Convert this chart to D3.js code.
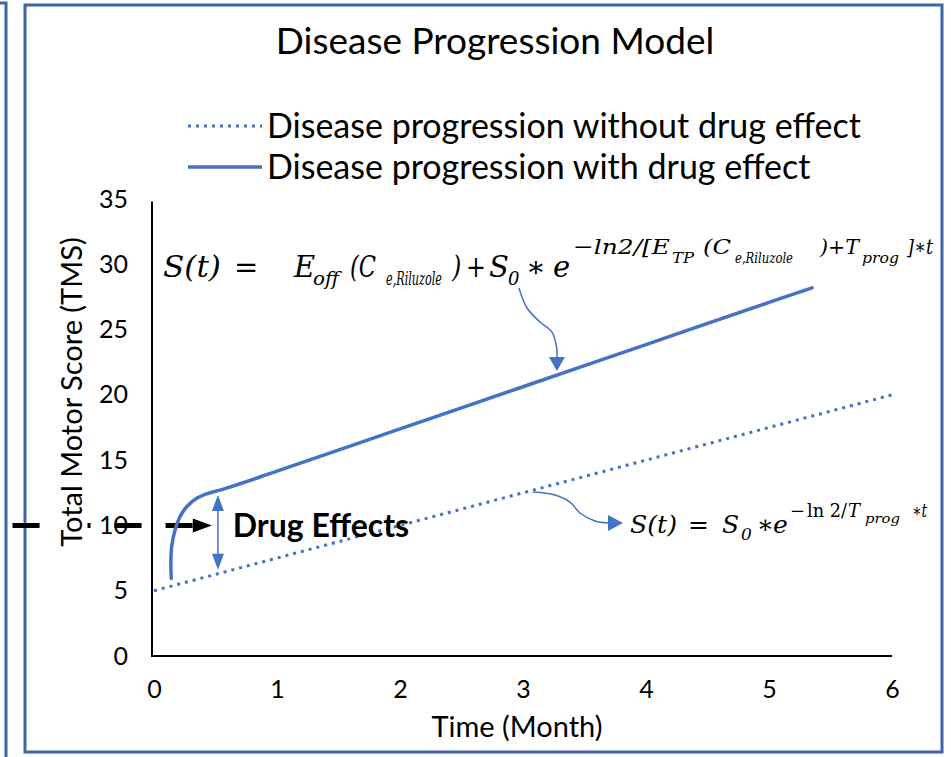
<!DOCTYPE html>
<html>
<head>
<meta charset="utf-8">
<script src="https://cdn.jsdelivr.net/npm/d3@7"></script>
<style>
  html, body { margin: 0; padding: 0; background: #fff; }
  svg { display: block; }
  text { font-family: Lato, "Open Sans", sans-serif; fill: #000; }
</style>
</head>
<body>
<svg id="chart" width="951" height="757"></svg>
<script>
// Time axis (months) and score axis tick labels
const xTicks = [0, 1, 2, 3, 4, 5, 6];
const yTicks = [0, 5, 10, 15, 20, 25, 30, 35];

// Progression without drug effect (dotted)
const noDrugTime  = [0, 6];
const noDrugScore = [5, 20];

// Progression with drug effect (solid)
const drugTime  = [0.14, 0.137, 0.144, 0.171, 0.211, 0.266, 0.347, 0.441, 0.537, 0.672, 1, 2, 3, 4, 5, 5.35];
const drugScore = [5.95, 7.1, 8.4, 9.65, 10.67, 11.43, 12.08, 12.46, 12.7, 13.1, 14.16, 17.39, 20.62, 23.85, 27.08, 28.2];

const legendLabels = ["Disease progression without drug effect", "Disease progression with drug effect"];

const BLUE = "#4472C4";
const FRAME = "#3E64A6";

const svg = d3.select("#chart");

const x = d3.scaleLinear().domain([0, 6]).range([154, 892]);
const y = d3.scaleLinear().domain([0, 35]).range([656, 199]);

// Panel frames
svg.append("rect").attr("x", -20).attr("y", 3).attr("width", 26).attr("height", 780)
  .attr("fill", "none").attr("stroke", FRAME).attr("stroke-width", 3);
svg.append("rect").attr("x", 25).attr("y", 5).attr("width", 917).attr("height", 747)
  .attr("fill", "none").attr("stroke", FRAME).attr("stroke-width", 3);

// Title
svg.append("text").attr("x", 495).attr("y", 41).attr("dy", "0.35em").attr("text-anchor", "middle")
  .style("font-size", "37px").text("Disease Progression Model");

// Legend
const legY = [126, 167];
svg.append("line").attr("x1", 188).attr("x2", 262).attr("y1", legY[0]).attr("y2", legY[0])
  .attr("stroke", BLUE).attr("stroke-width", 3).attr("stroke-dasharray", "3,5");
svg.append("line").attr("x1", 188).attr("x2", 262).attr("y1", legY[1]).attr("y2", legY[1])
  .attr("stroke", BLUE).attr("stroke-width", 3.5);
legendLabels.forEach((lab, i) => {
  svg.append("text").attr("x", 267).attr("y", legY[i]).attr("dy", "0.35em")
    .style("font-size", "34px").text(lab);
});

// Drug-effect marker arrow at score 10 (drawn beneath the labels)
const arrowY = y(10);
const arrowStart = x(-1.15), arrowTip = x(0.47);
svg.append("line").attr("x1", arrowStart).attr("x2", arrowTip - 18)
  .attr("y1", arrowY).attr("y2", arrowY)
  .attr("stroke", "#000").attr("stroke-width", 5).attr("stroke-dasharray", "27,24");
svg.append("path")
  .attr("d", `M${arrowTip},${arrowY} L${arrowTip - 19},${arrowY - 7} L${arrowTip - 19},${arrowY + 7} Z`)
  .attr("fill", "#000");

// Axes
const gx = svg.append("g").attr("transform", `translate(0,${y(0)})`)
  .call(d3.axisBottom(x).tickValues(xTicks).tickSize(0).tickPadding(24).tickFormat(d3.format("d")));
const gy = svg.append("g").attr("transform", `translate(${x(0) - 2},0)`)
  .call(d3.axisLeft(y).tickValues(yTicks).tickSize(0).tickPadding(24).tickFormat(d3.format("d")));
[gx, gy].forEach(g => {
  g.select(".domain").attr("stroke", "#000").attr("stroke-width", 2);
  g.selectAll("text").style("font-size", "25px").style("font-family", "Lato, 'Open Sans', sans-serif").attr("fill", "#000");
});
gx.select(".domain").attr("d", `M${x(0) - 2},0H${x(6)}`);
gy.select(".domain").attr("d", `M0,${y(34.8)}V${y(0) + 1}`);

// Axis titles
const ytX = 72, ytY = 392;
const yTitle = svg.append("text").attr("transform", `translate(${ytX},${ytY}) rotate(-90)`)
  .attr("text-anchor", "middle").attr("dy", "0.35em").style("font-size", "29px")
  .text("Total Motor Score (TMS)");
const bb = yTitle.node().getBBox();
svg.insert("rect", () => yTitle.node())
  .attr("x", ytX - bb.height / 2 + 2).attr("y", ytY - bb.width / 2)
  .attr("width", bb.height - 4).attr("height", bb.width).attr("fill", "#fff");

svg.append("text").attr("x", 517).attr("y", 727).attr("text-anchor", "middle")
  .attr("dy", "0.35em").style("font-size", "29px").text("Time (Month)");

// Series
const noDrug = noDrugTime.map((t, i) => [t, noDrugScore[i]]);
const withDrug = drugTime.map((t, i) => [t, drugScore[i]]);
svg.append("path").datum(noDrug)
  .attr("d", d3.line().x(d => x(d[0])).y(d => y(d[1])))
  .attr("fill", "none").attr("stroke", BLUE).attr("stroke-width", 3).attr("stroke-dasharray", "3,5");
svg.append("path").datum(withDrug)
  .attr("d", d3.line().x(d => x(d[0])).y(d => y(d[1])).curve(d3.curveCatmullRom))
  .attr("fill", "none").attr("stroke", BLUE).attr("stroke-width", 3.5).attr("stroke-linecap", "round");

// Double-headed arrow spanning the drug effect
const daX = x(0.52), daTop = y(12.33), daBot = y(6.6);
svg.append("line").attr("x1", daX).attr("x2", daX).attr("y1", daTop + 12).attr("y2", daBot - 12)
  .attr("stroke", BLUE).attr("stroke-width", 1.5);
svg.append("path").attr("d", `M${daX},${daTop} L${daX - 6},${daTop + 16} L${daX + 6},${daTop + 16} Z`).attr("fill", BLUE);
svg.append("path").attr("d", `M${daX},${daBot} L${daX - 6},${daBot - 16} L${daX + 6},${daBot - 16} Z`).attr("fill", BLUE);

svg.append("text").attr("x", x(0.64)).attr("y", y(10)).attr("dy", "0.35em")
  .style("font-size", "32px").style("font-weight", "bold").text("Drug Effects");

// Curved pointers from the formulas to the lines
const pointer1 = [[2.967, 28.18], [3.033, 26.65], [3.138, 25.58], [3.236, 24.81], [3.276, 23.44], [3.276, 22.9]];
const pointer2 = [[3.081, 12.56], [3.26, 12.33], [3.382, 11.79], [3.463, 10.95], [3.585, 10.34], [3.691, 10.19]];
const curveLine = d3.line().x(d => x(d[0])).y(d => y(d[1])).curve(d3.curveCatmullRom);
[pointer1, pointer2].forEach(p => {
  svg.append("path").datum(p).attr("d", curveLine)
    .attr("fill", "none").attr("stroke", BLUE).attr("stroke-width", 1.5);
});
{
  const bx = x(3.276), by = y(22.9);
  svg.append("path").attr("d", `M${bx - 8},${by} L${bx + 8},${by} L${bx},${by + 14} Z`).attr("fill", BLUE);
  const cx = x(3.691), cy = y(10.19);
  svg.append("path").attr("d", `M${cx},${cy - 8} L${cx},${cy + 8} L${cx + 15},${cy} Z`).attr("fill", BLUE);
}

// Formulas, typeset piece by piece.
// Level 0 base, 1 subscript, 2 superscript, 3 subscript inside superscript.
// Each piece: [text, level, left, right (optional width target), upright (optional)].
function formula(base, parts, sizes, shifts) {
  const g = svg.append("g").attr("class", "formula");
  parts.forEach(([s, lvl, x0, x1, upright]) => {
    const t = g.append("text").attr("x", x0).attr("y", base + shifts[lvl])
      .style("font-family", "'DejaVu Serif', 'Liberation Serif', serif")
      .style("font-style", upright ? "normal" : "italic")
      .style("font-size", sizes[lvl] + "px").text(s);
    if (x1 != null) t.attr("textLength", x1 - x0).attr("lengthAdjust", "spacingAndGlyphs");
  });
  return g;
}
formula(277, [
  ["S(t)", 0, 163, 221], ["=", 0, 234], ["E", 0, 294], ["off", 1, 313, 339], ["(C", 0, 350, 376],
  ["e,Riluzole", 1, 386, 442], [")\u2009+", 0, 452, 486], ["S", 0, 489], ["0", 1, 508],
  ["\u2217", 0, 526], ["e", 0, 553], ["\u2212ln2/[E", 2, 573, 670], ["TP", 3, 672, 694],
  ["(C", 2, 703, 731], ["e,Riluzole", 3, 735, 793], [")+T", 2, 820, 859], ["prog", 3, 862, 899],
  ["]\u2217t", 2, 907, 933]
], [29, 18, 21, 15], [0, 8, -23, -14]);

formula(533, [
  ["S(t)", 0, 630, 677], ["=", 0, 688], ["S", 0, 722], ["0", 1, 741], ["\u2217", 0, 757], ["e", 0, 773],
  ["\u2212", 2, 790], ["ln 2/", 2, 807, 847, true], ["T", 2, 848], ["prog", 3, 865, 900], ["\u2217t", 2, 912, 927]
], [25, 17, 18, 13], [0, 7, -16, -10]);
</script>
</body>
</html>
